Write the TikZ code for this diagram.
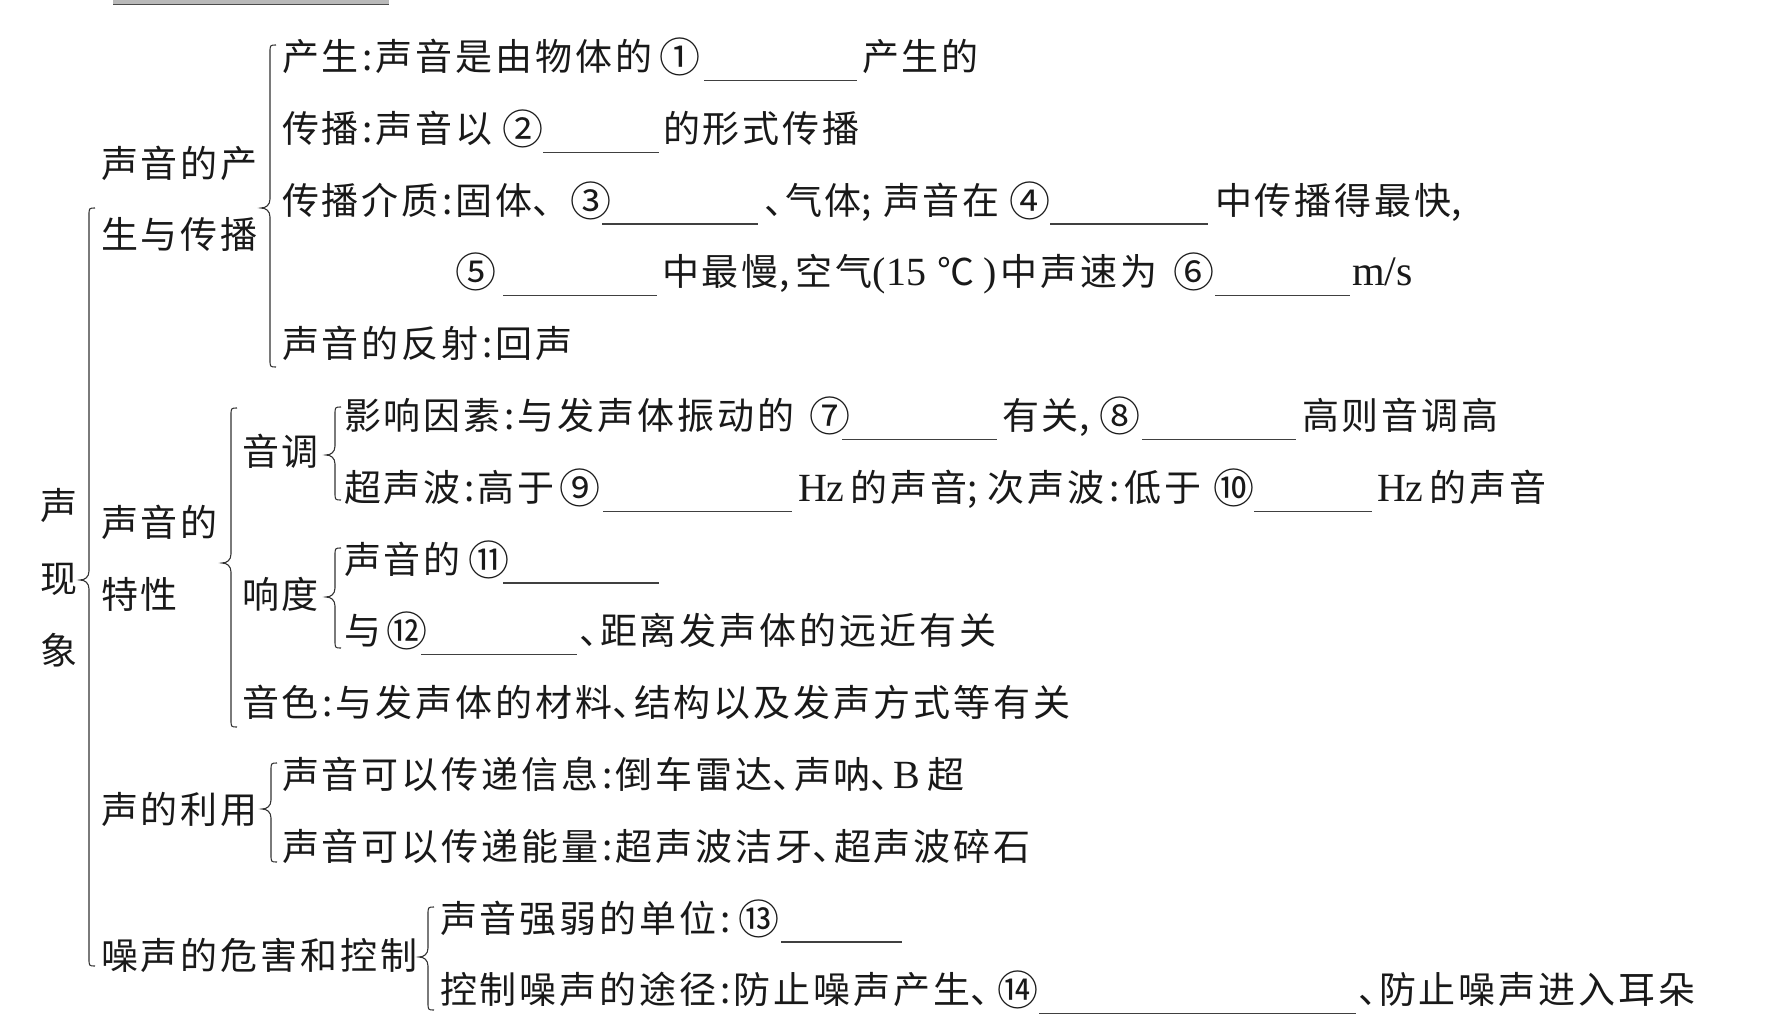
\documentclass[tikz,border=0pt]{standalone}
\usepackage{fontspec}
\newfontfamily\cjk{Noto Sans CJK SC}[LetterSpace=8.1]
\newfontfamily\cjkn{Noto Sans CJK SC}
\newfontfamily\lat{Liberation Serif}
\newcommand\cn{\makebox[17pt][c]{:}}
\newcommand\dn{\makebox[21pt][l]{、}}
\newcommand\sm{\makebox[17pt][l]{;}}
\newcommand\cm{\makebox[17pt][l]{,}}
\newcommand\la[1]{{\lat\fontsize{40}{44}\selectfont #1}}
\newcommand\cbrace[4]{%
  \draw[brc] ({#1+6},#2) .. controls (#1,#2) and (#1,#2) .. (#1,{#2+8})
    -- (#1,{#4-9}) .. controls (#1,{#4-3}) and ({#1-4},#4) .. ({#1-9},#4)
    .. controls ({#1-4},#4) and (#1,{#4+3}) .. (#1,{#4+9})
    -- (#1,{#3-8}) .. controls (#1,#3) and (#1,#3) .. ({#1+6},#3);}
\tikzset{
  t/.style={anchor=base west, inner sep=0pt, outer sep=0pt, text=black!90,
            font=\cjk\fontsize{37}{40}\selectfont},
  tc/.style={t, anchor=base},
  cnum/.style={anchor=base west, inner sep=0pt, outer sep=0pt, text=black!90,
            font=\cjkn\fontsize{41}{44}\selectfont, xshift=-2pt, yshift=-2pt},
  bl/.style={line width=1.2pt, black!75},
  brc/.style={line width=1.1pt, black!80},
}
\begin{document}
\begin{tikzpicture}[x=1pt,y=-1pt]
\useasboundingbox (0,0) rectangle (1767,1030);
% top strip
\fill[gray!55] (113,0) rectangle (389,4);
\draw[line width=0.8pt, black!70] (113,4.5) -- (389,4.5);

% root
\node[tc] (r1) at (58.6,519) {声};
\node[tc] (r2) at (58.6,592) {现};
\node[tc] (r3) at (58.6,664) {象};
\cbrace{89}{208}{966}{580}

% group 1
\node[t] (g1a) at (101,177.4) {声音的产};
\node[t] (g1b) at (101,248.4) {生与传播};
\cbrace{270}{45}{367}{208}
\node[t] (a1) at (282,70.4) {产生\cn 声音是由物体的};
\node[cnum] (n1) at (661,70.4) {①};
\draw[bl] (704,80.4) -- (857,80.4);
\node[t] (a1b) at (862,70.4) {产生的};

\node[t] (a2) at (282,142.2) {传播\cn 声音以};
\node[cnum] (n2) at (504,142.2) {②};
\draw[bl] (543,152.2) -- (659,152.2);
\node[t] (a2b) at (663,142.2) {的形式传播};

\node[t] (a3) at (282,214) {传播介质\cn 固体\makebox[19pt][l]{、}};
\node[cnum] (n3) at (572,214) {③};
\draw[bl] (602,224) -- (758,224);
\node[t] (a3b) at (764,214) {\dn 气体\makebox[21pt][l]{;}声音在};
\node[cnum] (n4) at (1011,214) {④};
\draw[bl] (1050,224) -- (1208,224);
\node[t] (a3c) at (1215,214) {中传播得最快\cm};

\node[cnum] (n5) at (457,285.8) {⑤};
\draw[bl] (503,295.8) -- (657,295.8);
\node[t] (a4) at (662,285.8) {中最慢\cm 空气\la{(15}\hspace{11pt}℃\hspace{9pt}\la{)}\hspace{4pt}中声速为};
\node[cnum] (n6) at (1175,285.8) {⑥};
\draw[bl] (1215,295.8) -- (1350,295.8);
\node[t] (a4b) at (1352,285.8) {{\lat\fontsize{42}{44}\selectfont m/s}};

\node[t] (a5) at (282,357.6) {声音的反射\cn 回声};

% group 2
\node[t] (g2a) at (101,536) {声音的};
\node[t] (g2b) at (101,608) {特性};
\cbrace{231}{408}{727}{563}
\node[t] (p1) at (242,465) {音调};
\cbrace{335}{407}{500}{455}
\node[t] (b1) at (344,429.4) {影响因素\cn 与发声体振动的};
\node[cnum] (n7) at (811,429.4) {⑦};
\draw[bl] (842,439.4) -- (997,439.4);
\node[t] (b1b) at (1002,429.4) {有关\cm};
\node[cnum] (n8) at (1101,429.4) {⑧};
\draw[bl] (1142,439.4) -- (1296,439.4);
\node[t] (b1c) at (1302,429.4) {高则音调高};

\node[t] (b2) at (344,501.2) {超声波\cn 高于};
\node[cnum] (n9) at (561,501.2) {⑨};
\draw[bl] (603,511.2) -- (792,511.2);
\node[t] (b2b) at (798,501.2) {\la{Hz}\hspace{6pt}的声音\makebox[20pt][l]{;}次声波\makebox[20pt][c]{:}低于};
\node[cnum] (n10) at (1215,501.2) {⑩};
\draw[bl] (1254,511.2) -- (1372,511.2);
\node[t] (b2c) at (1377,501.2) {\la{Hz}\hspace{6pt}的声音};

\node[t] (p2) at (242,608) {响度};
\cbrace{335}{548}{648}{597}
\node[t] (c1) at (344,573) {声音的};
\node[cnum] (n11) at (470,573) {⑪};
\draw[bl] (503,583) -- (659,583);
\node[t] (c2) at (344,644.8) {与};
\node[cnum] (n12) at (388,644.8) {⑫};
\draw[bl] (421,654.8) -- (577,654.8);
\node[t] (c2b) at (579,644.8) {\dn 距离发声体的远近有关};

\node[t] (p3) at (242,716.6) {音色\cn 与发声体的材料\dn 结构以及发声方式等有关};

% group 3
\node[t] (g3) at (101,823) {声的利用};
\cbrace{271}{763}{862}{809}
\node[t] (d1) at (282,788.4) {声音可以传递信息\cn 倒车雷达\dn 声呐\dn\hspace{2pt}\la{B}\hspace{7pt}超};
\node[t] (d2) at (282,860.2) {声音可以传递能量\cn 超声波洁牙\dn 超声波碎石};

% group 4
\node[t] (g4) at (101,969) {噪声的危害和控制};
\cbrace{428}{907}{1010}{957}
\node[t] (e1) at (440,932) {声音强弱的单位\cn};
\node[cnum] (n13) at (740,932) {⑬};
\draw[bl] (781,942) -- (902,942);
\node[t] (e2) at (440,1003.8) {控制噪声的途径\cn 防止噪声产生\makebox[16pt][l]{、}};
\node[cnum] (n14) at (999,1003.8) {⑭};
\draw[bl] (1039,1013.8) -- (1356,1013.8);
\node[t] (e2b) at (1358,1003.8) {\dn 防止噪声进入耳朵};
\end{tikzpicture}
\end{document}
